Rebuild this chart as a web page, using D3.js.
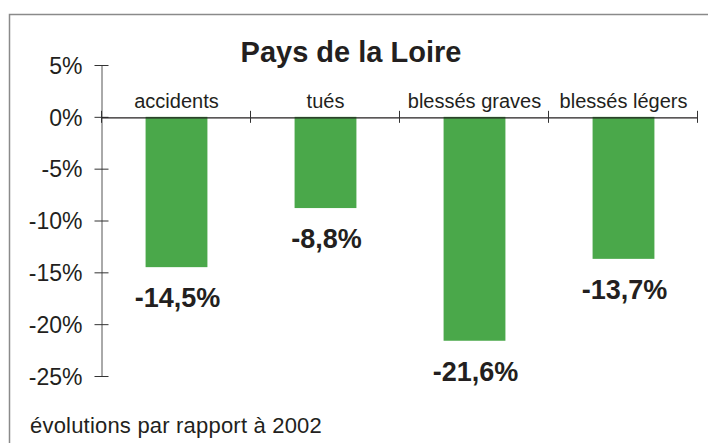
<!DOCTYPE html>
<html><head><meta charset="utf-8">
<script src="https://cdn.jsdelivr.net/npm/d3@7"></script>
<style>body{margin:0;background:#fff}svg{display:block}text{font-family:"Liberation Sans",Arial,sans-serif;fill:#231f20}</style>
</head><body><div id="chart"></div>
<script>
const categories = ["accidents", "tués", "blessés graves", "blessés légers"];
const values = [-14.5, -8.8, -21.6, -13.7];
const valueLabels = ["-14,5%", "-8,8%", "-21,6%", "-13,7%"];
const yTicks = [5, 0, -5, -10, -15, -20, -25];
const title = "Pays de la Loire";
const footnote = "évolutions par rapport à 2002";

const W = 708, H = 443;
const svg = d3.select("#chart").append("svg").attr("width", W).attr("height", H);

// frame
svg.append("path").attr("d", "M9.5,445 V14.5 H712").attr("fill", "none")
  .attr("stroke", "#8a8a8a").attr("stroke-width", 1.5);

const y = d3.scaleLinear().domain([5, -25]).range([65, 376]);
const x = d3.scaleBand().domain(categories).range([101, 697]).padding(0);
const barW = x.bandwidth() * 0.415;

// bars
svg.selectAll("rect.bar").data(values).join("rect")
  .attr("x", (d, i) => x(categories[i]) + (x.bandwidth() - barW) / 2 + 1)
  .attr("width", barW)
  .attr("y", y(0))
  .attr("height", d => y(d) - y(0))
  .attr("fill", "#4aa84a");

// y axis
const yAxis = svg.append("g").attr("transform", "translate(101.5,0)")
  .call(d3.axisLeft(y).tickValues(yTicks).tickSizeInner(6).tickSizeOuter(0).tickFormat(d => d + "%"));
yAxis.select(".domain").attr("stroke", "#555").attr("stroke-width", 1);
yAxis.selectAll(".tick line").attr("x1", -7).attr("x2", 7).attr("stroke", "#333");
yAxis.selectAll(".tick text").attr("x", -19).attr("dy", "0.36em")
  .style("font-size", "23px").style("font-family", "Liberation Sans, Arial, sans-serif").attr("fill", "#231f20");

// x axis at 0
const xAxis = svg.append("g").attr("transform", `translate(0,${y(0) + 0.5})`)
  .call(d3.axisBottom(x).tickSize(0).tickFormat(""));
xAxis.select(".domain").attr("stroke", "#231f20").attr("stroke-width", 1.2);
const bounds = [x(categories[0])].concat(categories.map(c => x(c) + x.bandwidth()));
svg.selectAll("line.xt").data(bounds).join("line")
  .attr("x1", d => Math.round(d) + 0.5).attr("x2", d => Math.round(d) + 0.5)
  .attr("y1", y(0) - 6).attr("y2", y(0) + 6)
  .attr("stroke", "#333").attr("stroke-width", 1);

// category labels
svg.selectAll("text.cat").data(categories).join("text")
  .attr("x", d => x(d) + x.bandwidth() / 2 + 1)
  .attr("y", 108)
  .attr("text-anchor", "middle")
  .style("font-size", "20px")
  .text(d => d);

// value labels
svg.selectAll("text.val").data(values).join("text")
  .attr("x", (d, i) => x(categories[i]) + x.bandwidth() / 2 + 2)
  .attr("y", d => y(d) + 40)
  .attr("text-anchor", "middle")
  .style("font-size", "27px").style("font-weight", "bold")
  .text((d, i) => valueLabels[i]);

// title
svg.append("text").attr("x", 351).attr("y", 62).attr("text-anchor", "middle")
  .style("font-size", "29px").style("font-weight", "bold").text(title);

// footnote
svg.append("text").attr("x", 30).attr("y", 433).style("font-size", "22px")
  .style("letter-spacing", "0.2px").text(footnote);
</script></body></html>
